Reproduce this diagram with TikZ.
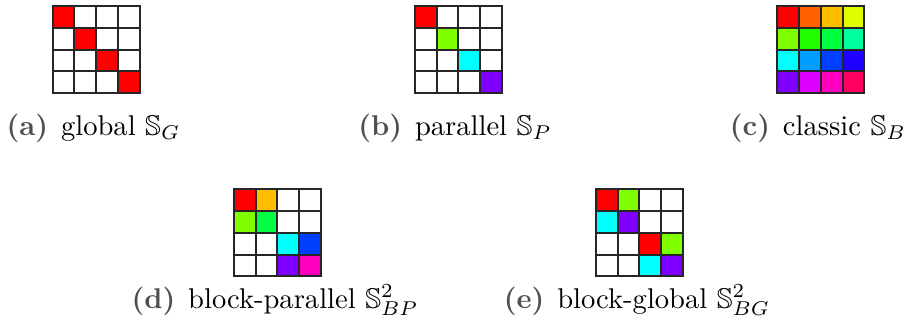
\documentclass[tikz,border=0pt]{standalone}
\usepackage{amssymb}
\usetikzlibrary{calc}
\definecolor{h0}{HTML}{FF0000}
\definecolor{h1}{HTML}{FF6000}
\definecolor{h2}{HTML}{FFBF00}
\definecolor{h3}{HTML}{DFFF00}
\definecolor{h4}{HTML}{80FF00}
\definecolor{h5}{HTML}{20FF00}
\definecolor{h6}{HTML}{00FF40}
\definecolor{h7}{HTML}{00FF9F}
\definecolor{h8}{HTML}{00FFFF}
\definecolor{h9}{HTML}{009FFF}
\definecolor{h10}{HTML}{0040FF}
\definecolor{h11}{HTML}{2000FF}
\definecolor{h12}{HTML}{8000FF}
\definecolor{h13}{HTML}{DF00FF}
\definecolor{h14}{HTML}{FF00BF}
\definecolor{h15}{HTML}{FF0060}
\definecolor{lblgray}{HTML}{505050}
\tikzset{
  cellbox/.style={draw=black!85, line width=0.7pt, minimum size=21.75*0.35pt, inner sep=0pt, outer sep=0pt},
  capt/.style={anchor=base, inner sep=0pt, font=\normalsize},
}
% draws a 4x4 grid of cells; #1 = name, #2 = top-left corner, #3 = list of 16 colours (row by row)
\newcommand{\cellgrid}[3]{%
  \foreach \c [count=\k from 0] in {#3} {%
    \pgfmathtruncatemacro{\r}{int(\k/4)}%
    \pgfmathtruncatemacro{\q}{mod(\k,4)}%
    \node[cellbox, fill=\c] (#1-\r-\q) at ($(#2)+(\q*21.75+10.875,\r*21.75+10.875)$) {};
  }%
}
\newcommand{\lbl}[1]{\textcolor{lblgray}{\textbf{(#1)}}\hspace{0.45em}}
\begin{document}
\begin{tikzpicture}[x=0.35pt, y=-0.35pt]
  \useasboundingbox (0,0) rectangle (910,333);
  \coordinate (ga) at (52.7,6);
  \coordinate (gb) at (415,6);
  \coordinate (gc) at (777.3,6);
  \coordinate (gd) at (234,189.3);
  \coordinate (ge) at (596,189.3);
  \cellgrid{a}{ga}{h0,white,white,white, white,h0,white,white, white,white,h0,white, white,white,white,h0}
  \cellgrid{b}{gb}{h0,white,white,white, white,h4,white,white, white,white,h8,white, white,white,white,h12}
  \cellgrid{c}{gc}{h0,h1,h2,h3, h4,h5,h6,h7, h8,h9,h10,h11, h12,h13,h14,h15}
  \cellgrid{d}{gd}{h0,h2,white,white, h4,h6,white,white, white,white,h8,h10, white,white,h12,h14}
  \cellgrid{e}{ge}{h0,h4,white,white, h8,h12,white,white, white,white,h0,h4, white,white,h8,h12}
  \node[capt] (ca) at (93.5,135) {\lbl{a}global $\mathbb{S}_G$};
  \node[capt] (cb) at (455,135) {\lbl{b}parallel $\mathbb{S}_P$};
  \node[capt] (cc) at (818,135) {\lbl{c}classic $\mathbb{S}_B$};
  \node[capt] (cd) at (275,308) {\lbl{d}block-parallel $\mathbb{S}^2_{BP}$};
  \node[capt] (ce) at (637,308) {\lbl{e}block-global $\mathbb{S}^2_{BG}$};
\end{tikzpicture}
\end{document}
